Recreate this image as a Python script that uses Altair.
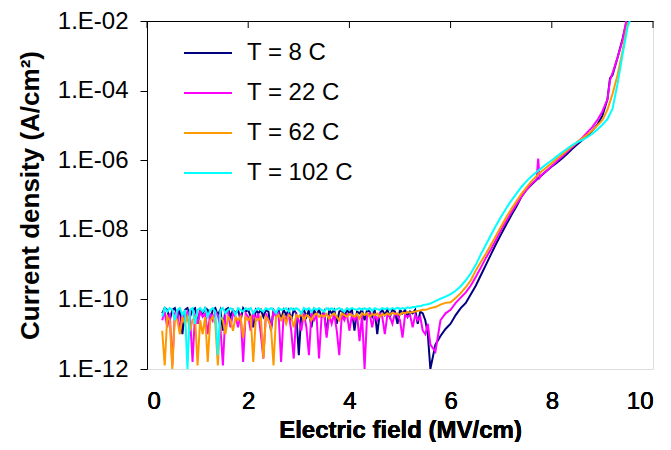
import altair as alt
import pandas as pd

# ---- data (log10 of current density, A/cm^2) ----
x_base = [0.30, 0.35, 0.40, 0.45, 0.50, 0.55, 0.60, 0.65, 0.70, 0.75,
          0.80, 0.85, 0.90, 0.95, 1.00, 1.05, 1.10, 1.15, 1.20, 1.25,
          1.30, 1.35, 1.40, 1.45, 1.50, 1.55, 1.60, 1.65, 1.70, 1.75,
          1.80, 1.85, 1.90, 1.95, 2.00, 2.05, 2.10, 2.15, 2.20, 2.25,
          2.30, 2.35, 2.40, 2.45, 2.50, 2.55, 2.60, 2.65, 2.70, 2.75,
          2.80, 2.85, 2.90, 2.95, 3.00, 3.05, 3.10, 3.15, 3.20, 3.25,
          3.30, 3.35, 3.40, 3.45, 3.50, 3.55, 3.60, 3.65, 3.70, 3.75,
          3.80, 3.85, 3.90, 3.95, 4.00, 4.05, 4.10, 4.15, 4.20, 4.25,
          4.30, 4.35, 4.40, 4.45, 4.50, 4.55, 4.60, 4.65, 4.70, 4.75,
          4.80, 4.85, 4.90, 4.95, 5.00, 5.05, 5.10, 5.15, 5.20, 5.25,
          5.30, 5.35, 5.40, 5.45, 5.50, 5.55]

navy_base = [-10.4, -10.25, -10.3, -10.6, -10.3, -10.25, -10.5, -10.3, -11.0, -10.3,
             -10.25, -10.5, -10.3, -10.25, -10.7, -10.3, -10.4, -10.25, -10.3, -10.6,
             -10.3, -10.25, -10.45, -10.3, -10.9, -10.3, -10.25, -10.5, -10.3, -10.4,
             -10.3, -10.6, -10.25, -10.35, -10.3, -10.5, -10.8, -10.3, -10.4, -10.3,
             -10.5, -10.3, -10.35, -10.9, -10.3, -10.4, -10.3, -10.6, -10.3, -10.45,
             -10.3, -10.6, -10.3, -10.4, -11.6, -10.4, -10.3, -10.5, -10.3, -10.8,
             -10.3, -10.45, -10.3, -10.5, -10.35, -11.0, -10.3, -10.4, -10.3, -10.7,
             -10.35, -10.3, -10.5, -10.3, -10.4, -10.3, -10.9, -10.35, -10.4, -10.3,
             -10.6, -10.3, -10.35, -10.5, -10.3, -11.0, -10.4, -10.3, -10.45, -10.3,
             -10.5, -10.3, -10.35, -10.7, -10.3, -10.4, -10.3, -10.5, -10.35, -10.4,
             -10.3, -10.7, -10.35, -10.4, -10.6, -11.0]
navy_rise_x = [5.6, 5.7, 5.8, 5.9, 6.0, 6.1, 6.2, 6.3, 6.4, 6.5, 6.6, 6.7, 6.8, 6.9, 7.0, 7.1,
               7.2, 7.3, 7.4, 7.5, 7.6, 7.7, 7.8, 7.9, 8.0, 8.1, 8.2, 8.3, 8.4, 8.5, 8.6, 8.7,
               8.8, 8.9, 9.0, 9.1, 9.15, 9.2, 9.3, 9.4, 9.48]
navy_rise = [-12.0, -11.3, -11.05, -10.85, -10.7, -10.45, -10.25, -10.1, -9.85, -9.6, -9.3,
             -9.0, -8.7, -8.4, -8.12, -7.85, -7.58, -7.33, -7.05, -6.85, -6.7, -6.56, -6.43,
             -6.3, -6.18, -6.07, -5.95, -5.82, -5.68, -5.55, -5.43, -5.3, -5.15, -4.98,
             -4.72, -4.25, -3.65, -3.55, -3.05, -2.5, -2.0]

magenta_base = [-10.6, -10.35, -10.8, -10.4, -11.9, -10.4, -10.35, -10.9, -10.4, -10.6,
                -10.35, -10.5, -11.8, -10.4, -10.7, -10.35, -10.5, -10.4, -11.0, -10.4,
                -10.6, -10.35, -10.45, -10.8, -11.9, -10.4, -10.35, -10.8, -10.4, -10.5,
                -10.8, -10.4, -11.8, -10.4, -10.5, -10.9, -10.35, -10.6, -10.4, -11.0,
                -11.7, -10.4, -10.6, -10.8, -10.35, -10.5, -10.4, -11.8, -10.45, -10.6,
                -10.4, -10.9, -11.7, -10.45, -10.6, -10.9, -10.4, -10.8, -11.6, -10.4,
                -10.6, -10.45, -11.7, -10.5, -10.4, -11.1, -10.45, -10.7, -10.4, -10.9,
                -11.6, -10.45, -10.6, -10.4, -10.9, -10.45, -10.6, -10.4, -11.2, -10.45,
                -12.0, -10.45, -10.4, -10.8, -10.45, -10.6, -10.4, -10.5, -11.0, -10.45,
                -10.5, -10.7, -10.4, -10.45, -10.6, -11.1, -10.45, -10.5, -10.45, -10.8,
                -10.45, -10.6, -10.5, -10.9, -11.0, -10.7]
magenta_rise_x = [5.6, 5.7, 5.8, 5.9, 6.0, 6.1, 6.2, 6.3, 6.4, 6.5, 6.6, 6.7, 6.8, 6.9, 7.0,
                  7.1, 7.2, 7.3, 7.4, 7.5, 7.6, 7.7, 7.73, 7.76, 7.8, 7.9, 8.0, 8.1, 8.2, 8.3,
                  8.4, 8.5, 8.6, 8.7, 8.8, 8.9, 9.0, 9.1, 9.15, 9.2, 9.3, 9.4, 9.47]
magenta_rise = [-11.3, -11.5, -10.6, -10.4, -10.3, -10.1, -9.95, -9.8, -9.6, -9.35, -9.08,
                -8.8, -8.55, -8.28, -8.0, -7.75, -7.5, -7.27, -7.05, -6.85, -6.68, -6.55,
                -5.95, -6.5, -6.42, -6.3, -6.17, -6.03, -5.9, -5.76, -5.63, -5.5, -5.36, -5.2,
                -5.05, -4.85, -4.6, -4.25, -3.7, -3.5, -3.05, -2.55, -2.0]

orange_base = [-10.9, -11.9, -10.5, -10.6, -12.0, -10.5, -10.6, -11.0, -10.5, -10.7,
               -10.5, -10.9, -10.6, -10.5, -11.9, -10.6, -11.0, -10.5, -11.8, -10.6,
               -10.5, -10.7, -11.9, -10.5, -10.6, -11.0, -10.5, -10.6, -10.9, -10.5,
               -10.6, -10.5, -11.1, -10.5, -10.6, -10.5, -11.8, -10.55, -10.6, -10.5,
               -11.7, -10.5, -10.6, -10.8, -11.9, -10.5, -10.45, -10.6, -10.45, -10.7,
               -10.45, -10.5, -10.8, -10.45, -10.5, -10.4, -10.6, -10.45, -10.5, -10.6,
               -10.45, -10.4, -10.5, -10.45, -10.5, -10.42, -10.55, -10.45, -10.4, -10.5,
               -10.6, -10.4, -10.45, -10.5, -10.42, -10.45, -10.5, -10.42, -10.55, -10.4,
               -10.45, -10.4, -10.5, -10.42, -10.45, -10.4, -10.5, -10.42, -10.45, -10.4,
               -10.45, -10.38, -10.42, -10.4, -10.45, -10.38, -10.4, -10.36, -10.38, -10.36,
               -10.35, -10.33, -10.32, -10.3, -10.3, -10.28]
orange_rise_x = [5.6, 5.7, 5.8, 5.9, 6.0, 6.1, 6.2, 6.3, 6.4, 6.5, 6.6, 6.7, 6.8, 6.9, 7.0, 7.1,
                 7.2, 7.3, 7.4, 7.5, 7.6, 7.7, 7.8, 7.9, 8.0, 8.1, 8.2, 8.3, 8.4, 8.5, 8.6, 8.7,
                 8.8, 8.9, 9.0, 9.1, 9.2, 9.3, 9.4, 9.5]
orange_rise = [-10.25, -10.22, -10.15, -10.1, -10.08, -9.96, -9.82, -9.65, -9.45, -9.16, -8.92,
               -8.68, -8.42, -8.16, -7.9, -7.64, -7.4, -7.18, -6.97, -6.78, -6.6, -6.45, -6.32,
               -6.2, -6.08, -5.96, -5.84, -5.72, -5.6, -5.48, -5.38, -5.27, -5.15, -5.0, -4.85,
               -4.55, -4.1, -3.55, -2.85, -2.05]

cyan_base = [-10.5, -10.25, -10.35, -10.25, -10.3, -10.6, -10.3, -10.25, -10.45, -10.3,
             -12.0, -10.3, -10.25, -10.7, -10.3, -10.25, -10.35, -10.25, -10.5, -10.3,
             -10.25, -10.35, -11.6, -10.3, -10.25, -10.4, -10.3, -10.25, -10.3, -10.45,
             -10.25, -10.3, -10.35, -10.25, -10.3, -10.25, -10.4, -10.3, -10.25, -10.3,
             -10.35, -10.25, -10.3, -10.25, -10.3, -10.4, -10.25, -10.3, -10.28, -10.25,
             -10.35, -10.25, -10.3, -10.25, -10.3, -10.4, -10.25, -10.3, -10.25, -10.35,
             -10.25, -10.3, -10.25, -10.3, -10.35, -10.25, -10.3, -10.25, -10.3, -10.28,
             -10.25, -10.3, -10.35, -10.25, -10.3, -10.25, -10.28, -10.3, -10.25, -10.3,
             -10.25, -10.3, -10.25, -10.33, -10.25, -10.28, -10.3, -10.25, -10.28, -10.25,
             -10.3, -10.25, -10.28, -10.24, -10.28, -10.25, -10.27, -10.23, -10.25, -10.22,
             -10.22, -10.2, -10.2, -10.17, -10.15, -10.14]
cyan_rise_x = [5.6, 5.7, 5.8, 5.9, 6.0, 6.1, 6.2, 6.3, 6.4, 6.5, 6.6, 6.7, 6.8, 6.9, 7.0, 7.1,
               7.2, 7.3, 7.4, 7.5, 7.6, 7.7, 7.8, 7.9, 8.0, 8.1, 8.2, 8.3, 8.4, 8.5, 8.6, 8.7,
               8.8, 8.9, 9.0, 9.1, 9.2, 9.3, 9.4, 9.5, 9.54]
cyan_rise = [-10.12, -10.05, -9.98, -9.92, -9.85, -9.75, -9.62, -9.45, -9.25, -9.0, -8.7, -8.42,
             -8.14, -7.87, -7.62, -7.38, -7.16, -6.96, -6.77, -6.6, -6.46, -6.34, -6.22, -6.11,
             -6.0, -5.89, -5.78, -5.67, -5.57, -5.49, -5.42, -5.34, -5.24, -5.12, -4.98, -4.82,
             -4.52, -3.8, -2.95, -2.15, -2.0]

series_names = ["\u00a0T = 8 C", "T = 22 C", "T = 62 C", "T = 102 C"]
series_colors = ["#000080", "#FF00FF", "#FF9900", "#00FFFF"]
x_ticks = [0, 2, 4, 6, 8, 10]
y_ticks = [1e-12, 1e-10, 1e-8, 1e-6, 1e-4, 1e-2]

rows = []
all_series = [
    (navy_base, navy_rise_x, navy_rise),
    (magenta_base, magenta_rise_x, magenta_rise),
    (orange_base, orange_rise_x, orange_rise),
    (cyan_base, cyan_rise_x, cyan_rise),
]
for name, (b, rx, ry) in zip(series_names, all_series):
    for xv, lv in zip(x_base + rx, b + ry):
        rows.append({"x": xv, "J": 10 ** lv, "series": name})
df = pd.DataFrame(rows)

FONT = "Liberation Sans"

x_scale = alt.Scale(domain=[0, 10], nice=False, zero=False)
y_scale = alt.Scale(type="log", domain=[1e-12, 1e-2], nice=False)
color_scale = alt.Scale(domain=series_names, range=series_colors)

label_expr = ("'1.E-' + (round(-log(datum.value)/LN10) < 10 ? '0' : '') + "
              "round(-log(datum.value)/LN10)")

layers = []
for i, name in enumerate(series_names):
    enc = dict(
        x=alt.X("x:Q", scale=x_scale,
                axis=alt.Axis(values=x_ticks, title="Electric field (MV/cm)", orient="bottom",
                              domain=False, ticks=False, tickSize=0, grid=False,
                              labelFontSize=24, labelFont=FONT, labelColor="black",
                              labelPadding=20, titleFontSize=24, titleFont=FONT,
                              titleFontWeight="bold", titleColor="black",
                              titleBaseline="alphabetic", titleY=68)),
        y=alt.Y("J:Q", scale=y_scale,
                axis=alt.Axis(values=y_ticks, labelExpr=label_expr,
                              title="Current density (A/cm²)", grid=False,
                              domainColor="black", tickColor="black", tickSize=7,
                              labelFontSize=24, labelFont=FONT, labelColor="black",
                              labelPadding=12, titleFontSize=26, titleFont=FONT,
                              titleFontWeight="bold", titleColor="black", titlePadding=14)),
        color=alt.Color("series:N", scale=color_scale,
                        legend=alt.Legend(title=None, orient="none", legendX=36, legendY=22,
                                          symbolType="stroke", symbolSize=2300,
                                          symbolStrokeWidth=2, labelFontSize=24,
                                          labelFont=FONT, labelColor="black",
                                          clipHeight=20, rowPadding=16, labelOffset=14)),
    )
    layers.append(
        alt.Chart(df).transform_filter(alt.datum.series == name)
        .mark_line(strokeWidth=2, clip=True).encode(**enc)
    )

tick_df = pd.DataFrame({"xt": x_ticks})
top_ticks = alt.Chart(tick_df).mark_rule(color="black", strokeWidth=1).encode(
    x=alt.X("xt:Q", scale=x_scale,
            axis=alt.Axis(orient="top", labels=False, ticks=False, tickSize=0, title=None,
                          domainColor="black", grid=False)),
    y=alt.value(0), y2=alt.value(7),
)

chart = alt.layer(*layers, top_ticks).properties(
    width=506, height=348,
    autosize=alt.AutoSizeParams(type="none"),
    padding={"left": 139, "top": 13, "right": 10, "bottom": 73},
).configure_view(stroke="#808080", strokeWidth=1).configure(background="white")

chart.save("out.html", embed_options={"renderer": "svg", "actions": False})
